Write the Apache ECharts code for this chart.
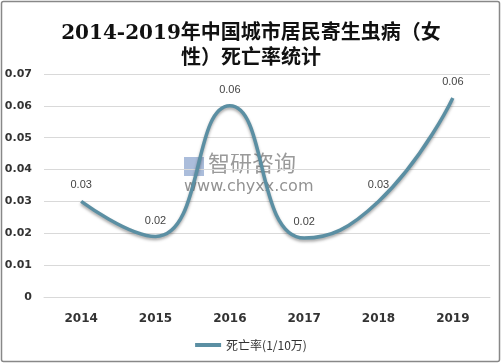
<!DOCTYPE html>
<html><head><meta charset="utf-8">
<script src="https://cdn.jsdelivr.net/npm/echarts@6/dist/echarts.min.js"></script>
<style>html,body{margin:0;padding:0;background:#fff}#c{width:502px;height:364px}</style>
</head><body><div id="c"></div>
<script>
const years = ['2014','2015','2016','2017','2018','2019'];
const rates = [0.030, 0.019, 0.060, 0.0185, 0.030, 0.0625];
const seriesName = '死亡率(1/10万)';
const yTicks = {min: 0, max: 0.07, interval: 0.01};
const lineColor = '#5b8fa3';

const chart = echarts.init(document.getElementById('c'));
chart.setOption({
  backgroundColor: '#fff',
  animation: false,
  title: {
    text: '2014-2019年中国城市居民寄生虫病（女\n性）死亡率统计',
    left: 'center', top: 16,
    textStyle: {fontFamily: '"DejaVu Serif", "Noto Sans CJK SC"', fontWeight: 'bold', fontSize: 20, color: '#111', lineHeight: 25}
  },
  graphic: [
    {type: 'rect', shape: {x: 1.5, y: 1.5, width: 498, height: 360, r: 2}, style: {fill: 'none', stroke: '#888', lineWidth: 1.5}, z: -1},
    {type: 'rect', shape: {x: 184, y: 157, width: 20, height: 19}, style: {fill: '#8fa7cf', opacity: 0.75}, z: 0},
    {type: 'text', left: 208, top: 152, style: {text: '智研咨询', fill: '#888', font: '22px "Noto Sans CJK SC"', opacity: 0.85}, z: 0},
    {type: 'text', left: 184, top: 179, style: {text: 'www.chyxx.com', fill: '#777', font: '16px "DejaVu Sans"', opacity: 0.8}, z: 0}
  ],
  legend: {
    bottom: 8, left: 'center',
    itemWidth: 26, itemHeight: 4,
    icon: 'rect',
    textStyle: {fontSize: 12, color: '#333', fontFamily: '"Noto Sans CJK SC", sans-serif'},
    data: [{name: seriesName, itemStyle: {color: lineColor, opacity: 1}}]
  },
  grid: {left: 44, right: 12, top: 74, bottom: 67},
  xAxis: {
    type: 'category', data: years, boundaryGap: true,
    axisLine: {lineStyle: {color: '#d9d9d9'}}, axisTick: {show: false},
    axisLabel: {fontWeight: 'bold', fontSize: 12, color: '#333', margin: 16, fontFamily: '"DejaVu Sans", sans-serif'}
  },
  yAxis: {
    type: 'value', min: yTicks.min, max: yTicks.max, interval: yTicks.interval,
    axisLine: {show: false}, axisTick: {show: false},
    splitLine: {lineStyle: {color: '#d9d9d9'}},
    axisLabel: {fontWeight: 'bold', fontSize: 11, color: '#333', margin: 12, formatter: v => v === 0 ? '0' : v.toFixed(2), fontFamily: '"DejaVu Sans", sans-serif'}
  },
  series: [{
    name: seriesName, type: 'line', data: rates, smooth: 0.5,
    symbol: 'circle', symbolSize: 1, showSymbol: true,
    lineStyle: {width: 3.5, color: lineColor, shadowColor: 'rgba(0,0,0,0.35)', shadowBlur: 3, shadowOffsetY: 2},
    itemStyle: {color: 'rgba(0,0,0,0)'},
    label: {show: true, position: 'top', distance: 10, fontSize: 11, color: '#444', formatter: p => p.value.toFixed(2)},
    z: 3
  }]
});
</script></body></html>
